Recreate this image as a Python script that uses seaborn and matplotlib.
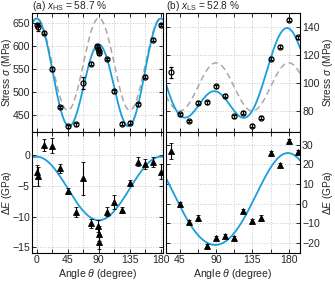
import numpy as np
import pandas as pd
import seaborn as sns
import matplotlib.pyplot as plt
from matplotlib.ticker import MultipleLocator

sns.set_theme(style="ticks")
plt.rcParams['font.family'] = ['Liberation Sans', 'DejaVu Sans']
plt.rcParams['mathtext.fontset'] = 'custom'
plt.rcParams['mathtext.rm'] = 'Liberation Sans'
plt.rcParams['mathtext.it'] = 'Liberation Sans:italic'
plt.rcParams['font.size'] = 7.6
plt.rcParams['axes.labelsize'] = 7.3
plt.rcParams['xtick.labelsize'] = 7.6
plt.rcParams['ytick.labelsize'] = 7.6

# (a) x_HS = 58.7 %, stress and modulus change vs angle
theta_a = [0, 1.2, 11.25, 22.5, 33.75, 45, 56.25, 67.5, 78.75, 88, 89.5, 91, 90.5,
           101.25, 112.5, 123.75, 135, 146.25, 157.5, 168.75, 180]
stress_a = [645, 640, 628, 549, 467, 425, 430, 520, 561, 599, 594, 588, 584,
            571, 501, 431, 433, 473, 533, 613, 645]
stress_err_a = [3, 9, 3, 4, 3, 3, 3, 13, 3, 3, 3, 3, 3, 3, 4, 3, 3, 3, 3, 3, 3]

theta_a_e = [0, 1.2, 11.25, 22.5, 33.75, 45, 56.25, 67.5, 78.75, 88.5, 90.5, 90,
             101.25, 112.5, 123.75, 135, 146.25, 157.5, 168.75, 180]
dE_a = [-2.7, -3.5, 1.6, 1.5, -2.2, -5.8, -9.2, -3.8, -11.1, -11.5, -12.8, -14.1,
        -9.2, -7.6, -9.0, -4.5, -1.1, -1.5, -1.2, -2.7]
dE_err_a = [1.0, 1.5, 1.0, 1.2, 0.7, 0.5, 0.8, 2.7, 0.7, 1.0, 1.2, 1.2, 0.7, 1.1,
            0.5, 0.5, 0.7, 0.8, 0.8, 1.2]

# (b) x_LS = 52.8 %
theta_b = [33.75, 45, 56.25, 67.5, 78.75, 90, 101.25, 112.5, 123.75, 135, 146.25,
           157.5, 168.75, 180, 191.25]
stress_b = [107.7, 77.6, 72.8, 86, 86.3, 97.6, 91, 76.1, 78.8, 69.4, 75.2, 117.3,
            125.8, 145.3, 132.5]
stress_err_b = [4, 1, 1, 1, 1, 1, 1, 1, 1, 1, 1, 1, 1, 1, 1]
dE_b = [26.8, -0.3, -9.3, -7.1, -21.2, -17.3, -16.4, -17.3, -3.4, -8.8, -7.1, 25.6,
        19.5, 31.9, 26.3]
dE_err_b = [4, 1, 1, 1.5, 1, 1, 1, 1, 1, 1, 1.5, 1, 1, 1, 1.2]

# fit coefficients: [const, cos2t, sin2t, cos4t, sin4t]
fit_stress_a = [528.75, 28.0, 0.0, 102.25, 0.0]
model_stress_a = [560.0, 0.0, 0.0, 100.0, 0.0]
fit_dE_a = [-5.45, 5.15, 0.0, 0.0, 0.0]
fit_stress_b = [97.6, 22.5, -1.6, 18.9, -2.8]
model_stress_b = [97.2, 0.0, 0.0, 17.2, 0.0]
fit_dE_b = [1.17, 23.34, -0.81, 1.28, -0.09]

BLUE = '#1a9fdb'
GRAY = '#a8a8a8'


def cos_series(t, c):
    r = np.deg2rad(t)
    return (c[0] + c[1] * np.cos(2 * r) + c[2] * np.sin(2 * r)
            + c[3] * np.cos(4 * r) + c[4] * np.sin(4 * r))


def style_axis(ax, xlim, ylim, ystep, right=False, bottom=False):
    ax.set_xlim(*xlim)
    ax.set_ylim(*ylim)
    ax.xaxis.set_major_locator(MultipleLocator(45))
    ax.xaxis.set_minor_locator(MultipleLocator(22.5))
    ax.yaxis.set_major_locator(MultipleLocator(ystep))
    ax.grid(which='both', axis='x', color='#c8c8c8', ls=':', lw=0.7)
    ax.grid(which='major', axis='y', color='#c8c8c8', ls=':', lw=0.7)
    ax.tick_params(which='both', direction='in', top=True, right=True, left=True,
                   bottom=True, length=3, width=0.7, pad=1.5, labelsize=7.6,
                   labelbottom=bottom, labelleft=not right, labelright=right)
    if right:
        ax.yaxis.set_label_position('right')
    for s in ax.spines.values():
        s.set_linewidth(0.8)
        s.set_color('black')
    ax.set_xlabel('Angle $\\theta$ (degree)' if bottom else '', labelpad=1.5,
                  fontsize=7.6)


def draw_curve(ax, coef, xlim, **kw):
    t = np.linspace(xlim[0], xlim[1], 400)
    df = pd.DataFrame({'t': t, 'v': cos_series(t, coef)})
    sns.lineplot(data=df, x='t', y='v', ax=ax, **kw)


fig = plt.figure(figsize=(3.35, 2.83), dpi=100)
ax_ta = fig.add_axes([0.0955, 0.5336, 0.391, 0.4205])
ax_ba = fig.add_axes([0.0955, 0.106, 0.391, 0.4276])
ax_tb = fig.add_axes([0.4955, 0.5336, 0.40, 0.4205])
ax_bb = fig.add_axes([0.4955, 0.106, 0.40, 0.4276])

xlim_a = (-6.8, 183)
xlim_b = (28, 194)

circ = dict(fmt='o', mfc='none', mec='black', ecolor='black', ms=3.6, mew=0.9,
            capsize=1.5, elinewidth=0.8, capthick=0.8, zorder=5)
tri = dict(fmt='^', mfc='black', mec='black', ecolor='black', ms=3.8, mew=0.6,
           capsize=1.5, elinewidth=0.8, capthick=0.8, zorder=5)

# (a) stress
draw_curve(ax_ta, model_stress_a, xlim_a, color=GRAY, lw=1.1, linestyle=(0, (4, 2.5)))
draw_curve(ax_ta, fit_stress_a, xlim_a, color=BLUE, lw=1.3)
ax_ta.errorbar(theta_a, stress_a, yerr=stress_err_a, **circ)
style_axis(ax_ta, xlim_a, (413, 671), 50)
ax_ta.set_ylabel('Stress $\\sigma$ (MPa)')
ax_ta.yaxis.set_label_coords(-0.138, 0.5)
ax_ta.text(0, 1.03, '(a) $x_{\\rm HS}$ = 58.7 %', transform=ax_ta.transAxes,
           ha='left', va='baseline', fontsize=7.3)

# (a) modulus
draw_curve(ax_ba, fit_dE_a, xlim_a, color=BLUE, lw=1.3)
ax_ba.errorbar(theta_a_e, dE_a, yerr=dE_err_a, **tri)
style_axis(ax_ba, xlim_a, (-15.9, 3.7), 5, bottom=True)
ax_ba.set_ylabel('Δ$E$ (GPa)')
ax_ba.yaxis.set_label_coords(-0.138, 0.5)

# (b) stress
draw_curve(ax_tb, model_stress_b, xlim_b, color=GRAY, lw=1.1, linestyle=(0, (4, 2.5)))
draw_curve(ax_tb, fit_stress_b, xlim_b, color=BLUE, lw=1.3)
ax_tb.errorbar(theta_b, stress_b, yerr=stress_err_b, **circ)
style_axis(ax_tb, xlim_b, (65, 150), 20, right=True)
ax_tb.set_ylabel('Stress $\\sigma$ (MPa)')
ax_tb.yaxis.set_label_coords(1.16, 0.5)
ax_tb.text(0, 1.03, '(b) $x_{\\rm LS}$ = 52.8 %', transform=ax_tb.transAxes,
           ha='left', va='baseline', fontsize=7.3)

# (b) modulus
draw_curve(ax_bb, fit_dE_b, xlim_b, color=BLUE, lw=1.3)
ax_bb.errorbar(theta_b, dE_b, yerr=dE_err_b, **tri)
style_axis(ax_bb, xlim_b, (-25, 36.5), 10, right=True, bottom=True)
ax_bb.set_ylabel('Δ$E$ (GPa)')
ax_bb.yaxis.set_label_coords(1.16, 0.5)

fig.savefig('out.png', dpi=100)
